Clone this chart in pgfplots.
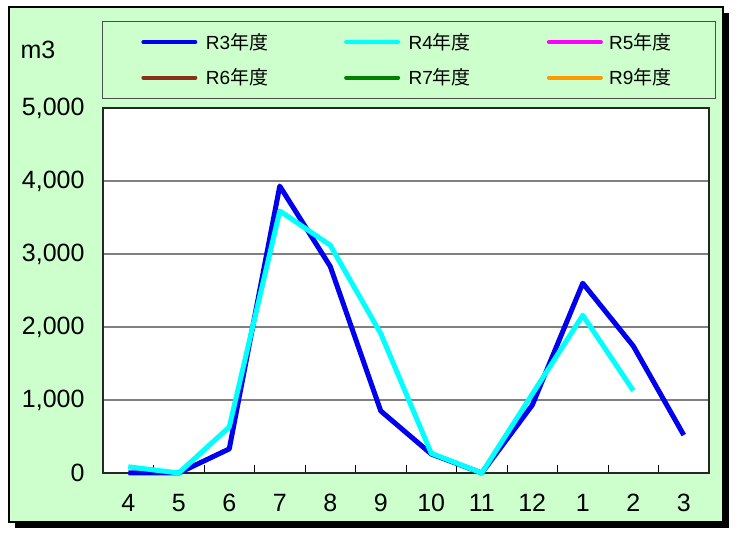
\documentclass[border=0pt]{standalone}
\usepackage{pgfplots}
\pgfplotsset{compat=1.18}
\usepackage{fontspec}
\setmainfont{Liberation Sans}
\newfontfamily\cjk{Noto Sans CJK JP}
\definecolor{bggreen}{HTML}{CCFFCC}
\definecolor{r3}{HTML}{0000EE}
\definecolor{r4}{HTML}{00FFFF}
\definecolor{r5}{HTML}{FF00FF}
\definecolor{r6}{HTML}{8B2F1A}
\definecolor{r7}{HTML}{008000}
\definecolor{r9}{HTML}{FF9900}
\begin{document}
\begin{tikzpicture}[x=1pt,y=1pt]
% canvas, frame with shadow, legend box
\fill[white] (0,0) rectangle (753,533);
\fill[black] (15,5) rectangle (729,520);
\draw[black, line width=1.5pt, fill=bggreen] (9,11) rectangle (723,526);
\draw[black!70, line width=1pt, fill=bggreen] (102,434) rectangle (715,511);
\node[font=\fontsize{25}{25}\selectfont] at (38,483) {m3};
\begin{axis}[
  at={(103pt,60pt)}, anchor=south west,
  scale only axis, width=606pt, height=365pt,
  axis background/.style={fill=white},
  xmin=-0.5, xmax=11.5, ymin=0, ymax=5000,
  xtick={0,...,11},
  xticklabels={4,5,6,7,8,9,10,11,12,1,2,3},
  minor xtick={0.5,1.5,...,10.5},
  ytick={0,1000,...,5000},
  scaled y ticks=false,
  xtick pos=bottom, ytick pos=left,
  major tick length=0pt, minor tick length=8pt, tick align=inside,
  minor tick style={black, line width=1pt},
  ymajorgrids, major grid style={gray, line width=1.5pt},
  axis line style={black!85, line width=1.2pt},
  ticklabel style={font=\fontsize{25}{25}\selectfont},
  /pgf/number format/assume math mode=true,
  yticklabel style={/pgf/number format/1000 sep={,}, xshift=-15pt},
  xticklabel style={yshift=-18pt},
  clip=false,
  legend columns=3,
  legend cell align=left,
  legend image code/.code={\draw[#1, line width=4pt, line cap=round] (0pt,0pt) -- (52pt,0pt); \path (58pt,0pt);},
  legend style={draw=none, fill=none, at={(axis description cs:0.058,1.216)}, anchor=north west,
    font=\fontsize{19}{19}\selectfont, row sep=14pt,
    /tikz/every even column/.append style={column sep=74pt}},
]
\addplot[r3, line width=5pt, line join=round] coordinates {
  (0,0) (1,0) (2,330) (3,3930) (4,2830) (5,850) (6,260) (7,0) (8,930) (9,2600) (10,1740) (11,520)
};
\addlegendentry{R3{\cjk 年度}}
\addplot[r4, line width=5pt, line join=round] coordinates {
  (0,85) (1,0) (2,630) (3,3590) (4,3120) (5,1910) (6,270) (7,0) (8,1080) (9,2160) (10,1130)
};
\addlegendentry{R4{\cjk 年度}}
\addlegendimage{r5}
\addlegendentry{R5{\cjk 年度}}
\addlegendimage{r6}
\addlegendentry{R6{\cjk 年度}}
\addlegendimage{r7}
\addlegendentry{R7{\cjk 年度}}
\addlegendimage{r9}
\addlegendentry{R9{\cjk 年度}}
\end{axis}
\end{tikzpicture}
\end{document}
